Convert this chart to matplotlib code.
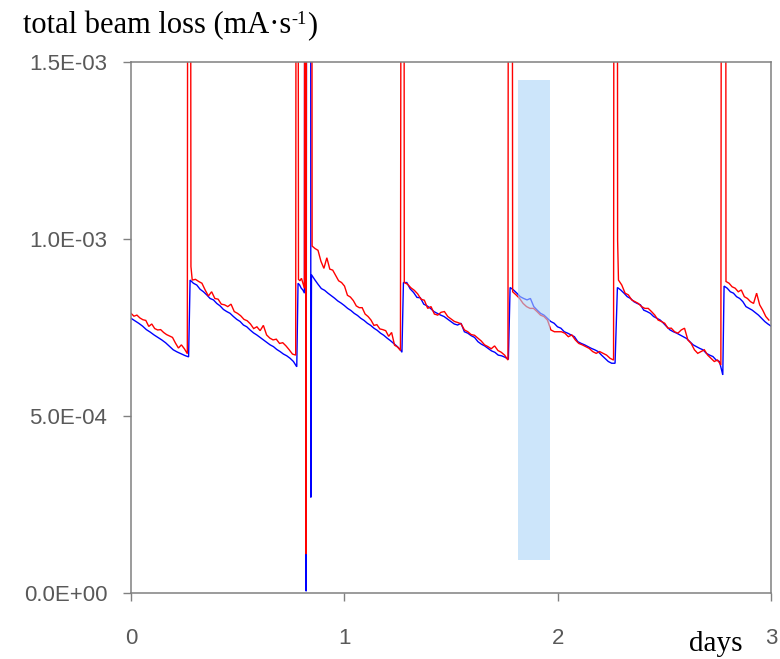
import numpy as np
import matplotlib
matplotlib.use("Agg")
import matplotlib.pyplot as plt
from matplotlib.patches import Rectangle

# ---------------- data (values in units of 1E-04) ----------------
SCALE = 1e-4
SPIKE = 30.0          # injection spikes go off the top of the scale

# red series, decay segments (t_start, t_end, values)
red_A = [7.90, 7.82, 7.85, 7.77, 7.72, 7.70, 7.53, 7.60, 7.47, 7.43,
         7.44, 7.36, 7.30, 7.26, 7.22, 7.06, 6.92, 7.01, 6.90, 6.76]
red_B = [8.84, 8.86, 8.80, 8.75, 8.56, 8.39, 8.51, 8.32, 8.30, 8.16,
         8.14, 8.09, 8.16, 7.95, 7.90, 7.83, 7.73, 7.69, 7.60, 7.47,
         7.52, 7.41, 7.56, 7.29, 7.20, 7.15, 7.17, 7.05, 7.07, 6.98,
         6.87, 6.75, 6.72]
red_C = [8.86, 8.82, 8.89, 8.75, 8.61]
red_D = [9.80, 9.73, 9.68, 9.37, 9.17, 9.47, 9.15, 9.12, 8.97, 8.82,
         8.77, 8.67, 8.41, 8.36, 8.26, 8.11, 8.06, 8.06, 7.88, 7.81,
         7.71, 7.56, 7.58, 7.46, 7.44, 7.41, 7.25, 7.36, 7.00, 6.95,
         6.85]
red_E = [8.77, 8.72, 8.62, 8.55, 8.45, 8.30, 8.27, 8.04, 8.09, 7.88,
         7.85, 7.93, 7.95, 7.81, 7.74, 7.67, 7.64, 7.60, 7.43, 7.38,
         7.30, 7.28, 7.20, 7.12, 7.01, 6.96, 6.90, 6.98, 6.85, 6.80,
         6.72, 6.58]
red_F = [8.51, 8.42, 8.32, 8.18, 8.09, 8.04, 8.04, 7.95, 7.85, 7.81,
         7.71, 7.43, 7.38, 7.38, 7.38, 7.34, 7.24, 7.29, 7.15, 7.05,
         7.01, 6.96, 6.91, 6.82, 6.77, 6.82, 6.77, 6.72, 6.63, 6.58]
red_G = [8.84, 8.70, 8.47, 8.42, 8.28, 8.23, 8.18, 8.09, 8.04, 8.04,
         7.95, 7.85, 7.71, 7.67, 7.62, 7.48, 7.48, 7.38, 7.34, 7.43,
         7.48, 7.15, 7.05, 6.87, 6.77, 6.82, 6.87, 6.72, 6.63, 6.54,
         6.58, 6.44]
red_H = [8.80, 8.75, 8.65, 8.61, 8.51, 8.56, 8.37, 8.32, 8.23, 8.18,
         8.47, 8.14, 7.99, 7.81, 7.71]

red_pieces = [
    ("seg", 0.000, 0.264, red_A),
    ("pts", [0.267, 0.278, 0.281], [SPIKE, SPIKE, 9.22]),
    ("seg", 0.287, 0.772, red_B),
    ("pts", [0.775, 0.782], [SPIKE, SPIKE]),
    ("seg", 0.785, 0.813, red_C),
    ("pts", [0.815, 0.820, 0.821, 0.823, 0.847], [SPIKE, SPIKE, 1.1, SPIKE, SPIKE]),
    ("seg", 0.849, 1.263, red_D),
    ("pts", [1.268, 1.279], [SPIKE, SPIKE]),
    ("seg", 1.281, 1.767, red_E),
    ("pts", [1.770, 1.786], [SPIKE, SPIKE]),
    ("seg", 1.789, 2.262, red_F),
    ("pts", [2.265, 2.279, 2.281], [SPIKE, SPIKE, 9.97]),
    ("seg", 2.285, 2.765, red_G),
    ("pts", [2.769, 2.787], [SPIKE, SPIKE]),
    ("seg", 2.789, 2.990, red_H),
]

# blue series
blue_A = [7.76, 7.69, 7.62, 7.54, 7.44, 7.37, 7.29, 7.22, 7.15, 7.07,
          6.97, 6.87, 6.81, 6.76, 6.71, 6.67]
blue_B = [8.84, 8.75, 8.70, 8.58, 8.51, 8.42, 8.32, 8.28, 8.18, 8.11,
          8.01, 7.95, 7.90, 7.81, 7.73, 7.67, 7.57, 7.52, 7.43, 7.35,
          7.29, 7.22, 7.15, 7.08, 7.01, 6.96, 6.88, 6.82, 6.75, 6.70,
          6.63, 6.54, 6.39]
blue_C = [8.75, 8.70, 8.61, 8.56, 8.47]
blue_D = [8.99, 8.85, 8.72, 8.60, 8.55, 8.47, 8.40, 8.33, 8.25, 8.19,
          8.12, 8.04, 7.98, 7.90, 7.84, 7.76, 7.70, 7.62, 7.56, 7.48,
          7.42, 7.34, 7.28, 7.20, 7.13, 7.05, 6.97, 6.88]
blue_E = [8.77, 8.77, 8.59, 8.49, 8.35, 8.34, 8.16, 8.11, 8.04, 7.95,
          7.90, 7.85, 7.81, 7.74, 7.67, 7.60, 7.57, 7.62, 7.38, 7.34,
          7.27, 7.22, 7.10, 7.03, 6.98, 6.91, 6.84, 6.80, 6.72, 6.70,
          6.66, 6.60]
blue_F = [8.63, 8.56, 8.47, 8.37, 8.32, 8.28, 8.32, 8.09, 7.99, 7.90,
          7.85, 7.76, 7.67, 7.62, 7.52, 7.48, 7.38, 7.34, 7.29, 7.24,
          7.10, 7.05, 7.01, 6.96, 6.91, 6.87, 6.82, 6.72, 6.63, 6.54,
          6.49, 6.49]
blue_G = [8.63, 8.56, 8.47, 8.37, 8.32, 8.23, 8.18, 8.14, 7.99, 7.95,
          7.90, 7.81, 7.76, 7.71, 7.62, 7.52, 7.43, 7.38, 7.34, 7.29,
          7.24, 7.19, 7.10, 7.01, 6.96, 6.91, 6.87, 6.77, 6.72, 6.68,
          6.58, 6.54, 6.16]
blue_H = [8.67, 8.61, 8.51, 8.47, 8.37, 8.32, 8.23, 8.09, 8.04, 7.99,
          7.92, 7.85, 7.76, 7.67, 7.60, 7.54]

blue_pieces = [
    ("seg", 0.000, 0.270, blue_A),
    ("seg", 0.277, 0.777, blue_B),
    ("seg", 0.783, 0.813, blue_C),
    ("pts", [0.815, 0.820, 0.821, 0.824, 0.842, 0.843], [SPIKE, SPIKE, 0.05, SPIKE, SPIKE, 2.7]),
    ("seg", 0.846, 1.262, blue_D),
    ("pts", [1.270], [6.80]),
    ("seg", 1.277, 1.769, blue_E),
    ("seg", 1.777, 2.269, blue_F),
    ("seg", 2.280, 2.774, blue_G),
    ("seg", 2.780, 3.000, blue_H),
]

# highlighted interval
band_x = (1.814, 1.964)
band_y = (0.93e-4, 1.449e-3)

x_ticks = [0, 1, 2, 3]
x_ticklabels = ["0", "1", "2", "3"]
y_ticks = [0.0, 5e-4, 1e-3, 1.5e-3]
y_ticklabels = ["0.0E+00", "5.0E-04", "1.0E-03", "1.5E-03"]


def build(pieces):
    ts, vs = [], []
    for p in pieces:
        if p[0] == "seg":
            _, t0, t1, vals = p
            ts.extend(np.linspace(t0, t1, len(vals)))
            vs.extend(vals)
        else:
            _, tt, vv = p
            ts.extend(tt)
            vs.extend(vv)
    return np.array(ts), np.array(vs) * SCALE


# ---------------- figure ----------------
W, H = 780, 659
fig = plt.figure(figsize=(W / 100, H / 100), dpi=100)
ax = fig.add_axes([131 / W, 1 - 593 / H, 640 / W, 531 / H])

bt, bv = build(blue_pieces)
rt, rv = build(red_pieces)
ax.plot(bt, bv, color="#0000ff", lw=1.0, zorder=2, solid_joinstyle="miter")
ax.plot(rt, rv, color="#ff0000", lw=1.0, zorder=2.1, solid_joinstyle="miter")

ax.add_patch(Rectangle((band_x[0], band_y[0]), band_x[1] - band_x[0],
                       band_y[1] - band_y[0], facecolor="#aad4f7",
                       edgecolor="none", alpha=0.6, zorder=3))

ax.set_xlim(0, 3)
ax.set_ylim(0, 1.5e-3)

gray = "#808080"
for s in ax.spines.values():
    s.set_color(gray)
    s.set_linewidth(1.1)

ax.set_xticks(x_ticks)
ax.set_xticklabels(x_ticklabels)
ax.set_yticks(y_ticks)
ax.set_yticklabels(y_ticklabels)
ax.tick_params(axis="both", direction="out", length=6, width=1.0, color=gray,
               labelcolor="#595959", labelsize=16)
ax.tick_params(axis="x", pad=19)
ax.tick_params(axis="y", pad=11)
for lab in ax.get_xticklabels() + ax.get_yticklabels():
    lab.set_fontfamily("Liberation Sans")

# title with superscript, built from pieces
serif = "Liberation Serif"
fs_title = 22
fs = 21
t1 = fig.text(23 / W, 1 - 33 / H, "total beam loss (mA\u00b7s", fontsize=fs_title,
              family=serif, va="baseline", ha="left")
fig.canvas.draw()
r = fig.canvas.get_renderer()
bb = t1.get_window_extent(r)
t2 = fig.text(bb.x1 / W + 0.5 / W, 1 - 24 / H, "-1", fontsize=fs_title * 0.6,
              family=serif, va="baseline", ha="left")
bb2 = t2.get_window_extent(r)
fig.text(bb2.x1 / W + 0.5 / W, 1 - 33 / H, ")", fontsize=fs_title,
         family=serif, va="baseline", ha="left")

fig.text(689 / W, 1 - 651 / H, "days", fontsize=fs, family=serif,
         va="baseline", ha="left")

fig.savefig("out.png", dpi=100)
